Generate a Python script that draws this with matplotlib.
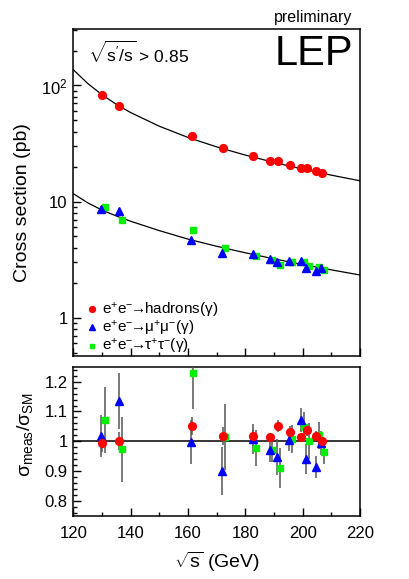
import numpy as np
import matplotlib
matplotlib.use("Agg")
import matplotlib.pyplot as plt
from matplotlib.ticker import MultipleLocator, LogLocator, NullFormatter, FixedLocator, FixedFormatter

plt.rcParams["font.family"] = ["Liberation Sans", "DejaVu Sans"]
plt.rcParams["mathtext.fontset"] = "custom"
plt.rcParams["mathtext.rm"] = "Liberation Sans"
plt.rcParams["mathtext.it"] = "Liberation Sans:italic"
plt.rcParams["mathtext.bf"] = "Liberation Sans:bold"

# ── SM prediction curves ─────────────────────────────────────────────────────
curve_e   = [120, 125, 130, 135, 140, 150, 160, 170, 180, 190, 200, 210, 220]
curve_had = [137, 104.4, 83.4, 68.9, 58.5, 44.6, 35.7, 29.6, 25.15, 21.75, 19.06, 16.89, 15.1]
curve_mu  = [11.7, 9.77, 8.45, 7.52, 6.77, 5.62, 4.75, 4.12, 3.62, 3.21, 2.87, 2.58, 2.33]

# ── hadrons ──────────────────────────────────────────────────────────────────
had_e     = [130.1, 136.1, 161.3, 172.1, 182.7, 188.6, 191.6, 195.5, 199.5, 201.6, 204.8, 206.6]
had_xs    = [82.5, 66.6, 36.8, 29.1, 24.6, 22.5, 22.4, 20.8, 19.4, 19.4, 18.3, 17.6]
had_ratio = [0.993, 1.002, 1.050, 1.018, 1.017, 1.013, 1.050, 1.030, 1.013, 1.039, 1.018, 1.002]
had_err   = [0.03, 0.03, 0.03, 0.03, 0.02, 0.015, 0.02, 0.02, 0.015, 0.02, 0.015, 0.015]

# ── mu+mu- ───────────────────────────────────────────────────────────────────
mu_e      = [129.8, 135.9, 161.0, 171.9, 182.8, 188.5, 191.0, 195.1, 199.5, 201.2, 204.7, 206.3]
mu_xs     = [8.65, 8.34, 4.69, 3.60, 3.53, 3.17, 3.00, 3.05, 3.08, 2.67, 2.50, 2.66]
mu_ratio  = [1.018, 1.135, 0.998, 0.900, 1.009, 0.970, 0.947, 1.003, 1.071, 0.942, 0.914, 0.993]
mu_err    = [0.07, 0.095, 0.075, 0.08, 0.05, 0.04, 0.06, 0.035, 0.04, 0.05, 0.037, 0.04]

# ── tau+tau- ─────────────────────────────────────────────────────────────────
tau_e     = [131.1, 136.9, 161.9, 172.9, 183.8, 189.3, 192.1, 196.3, 200.6, 202.3, 205.7, 207.3]
tau_xs    = [8.89, 7.00, 5.71, 4.00, 3.39, 3.15, 2.86, 3.02, 2.99, 2.80, 2.75, 2.55]
tau_ratio = [1.071, 0.973, 1.229, 1.014, 0.979, 0.972, 0.912, 1.007, 1.049, 1.001, 1.020, 0.964]
tau_err   = [0.11, 0.11, 0.12, 0.11, 0.06, 0.04, 0.067, 0.047, 0.05, 0.06, 0.045, 0.04]

RED, BLUE, GREEN, EBAR = "#ff0000", "#0000ff", "#00ee00", "#555555"
ARROW = r"$\!\!\rightarrow\!\!$"

fig = plt.figure(figsize=(4.09, 5.79), dpi=100)
ax1 = fig.add_axes([0.179, 0.3857, 0.701, 0.5643])
ax2 = fig.add_axes([0.179, 0.1088, 0.701, 0.2579])

series = [
    (tau_e, tau_xs, tau_ratio, tau_err, "s", GREEN, 4.8, "e$^{+}$e$^{-}$" + ARROW + "τ$^{+}$τ$^{-}$(γ)"),
    (mu_e, mu_xs, mu_ratio, mu_err, "^", BLUE, 5.6, "e$^{+}$e$^{-}$" + ARROW + "μ$^{+}$μ$^{-}$(γ)"),
    (had_e, had_xs, had_ratio, had_err, "o", RED, 5.6, "e$^{+}$e$^{-}$" + ARROW + "hadrons(γ)"),
]

# ── top panel: cross sections ────────────────────────────────────────────────
ax1.plot(curve_e, curve_had, color="black", lw=0.9, zorder=2)
ax1.plot(curve_e, curve_mu, color="black", lw=0.9, zorder=2)
handles = {}
for e, xs, r, err, m, c, ms, lab in series:
    xs = np.array(xs)
    yerr = 0.6 * xs * np.array(err) / np.array(r)
    ax1.errorbar(e, xs, yerr=yerr, fmt="none", ecolor=EBAR, elinewidth=1.0, zorder=3)
    h, = ax1.plot(e, xs, m, color=c, ms=ms, mec=c, ls="none", zorder=4)
    handles[lab] = h

ax1.set_yscale("log")
ax1.set_xlim(120, 220)
ax1.set_ylim(0.47, 307)
ax1.yaxis.set_major_locator(FixedLocator([1, 10, 100]))
ax1.yaxis.set_major_formatter(FixedFormatter(["1", "10", r"10$^{2}$"]))
ax1.yaxis.set_minor_locator(LogLocator(base=10, subs=np.arange(2, 10)))
ax1.yaxis.set_minor_formatter(NullFormatter())
ax1.xaxis.set_major_locator(MultipleLocator(20))
ax1.xaxis.set_minor_locator(MultipleLocator(10))
ax1.tick_params(axis="x", labelbottom=False)

# legend order: hadrons, mu, tau
order = [series[2][7], series[1][7], series[0][7]]
ax1.legend([handles[k] for k in order], order, loc="lower left",
           bbox_to_anchor=(0.0, -0.035), frameon=False, fontsize=11,
           handletextpad=0.2, handlelength=1.0, labelspacing=-0.05,
           markerscale=0.75, borderaxespad=0.3)

ax1.text(0.05, 0.925, r"$\sqrt{\mathrm{s^{\prime}/s}}$ > 0.85", transform=ax1.transAxes,
         fontsize=12.5, ha="left", va="center")
ax1.text(0.975, 0.985, "LEP", transform=ax1.transAxes, fontsize=30,
         ha="right", va="top")
fig.text(0.862, 0.970, "preliminary", fontsize=11.5, ha="right", va="center")

# ── bottom panel: ratios ─────────────────────────────────────────────────────
ax2.axhline(1.0, color="black", lw=1.1, zorder=2)
for e, xs, r, err, m, c, ms, lab in series:
    ax2.errorbar(e, r, yerr=err, fmt="none", ecolor=EBAR, elinewidth=1.1, zorder=3)
for e, xs, r, err, m, c, ms, lab in series:
    ax2.plot(e, r, m, color=c, ms=ms, mec=c, ls="none", zorder=4)

ax2.set_xlim(120, 220)
ax2.set_ylim(0.75, 1.25)
ax2.xaxis.set_major_locator(MultipleLocator(20))
ax2.xaxis.set_minor_locator(MultipleLocator(10))
ax2.yaxis.set_major_locator(MultipleLocator(0.1))
ax2.yaxis.set_minor_locator(MultipleLocator(0.02))
ax2.yaxis.set_major_formatter(plt.FuncFormatter(lambda v, p: f"{v:g}"))

for ax in (ax1, ax2):
    for sp in ax.spines.values():
        sp.set_linewidth(1.1)
    ax.tick_params(which="both", direction="in", top=False, right=False, labelsize=12)
    ax.tick_params(which="major", length=6, width=1)
    ax.tick_params(which="minor", length=3, width=1)
    ax.tick_params(axis="y", pad=4)
    ax.tick_params(axis="x", pad=7)

fig.text(0.054, 0.651, "Cross section (pb)", rotation=90, fontsize=14,
         ha="center", va="center")
fig.text(0.062, 0.249, "σ$_{\\mathrm{meas}}$/σ$_{\\mathrm{SM}}$", rotation=90,
         fontsize=14, ha="center", va="center")
fig.text(0.53, 0.030, r"$\sqrt{\mathrm{s}}$ (GeV)", fontsize=14, ha="center", va="center")

fig.savefig("out.png", dpi=100)
